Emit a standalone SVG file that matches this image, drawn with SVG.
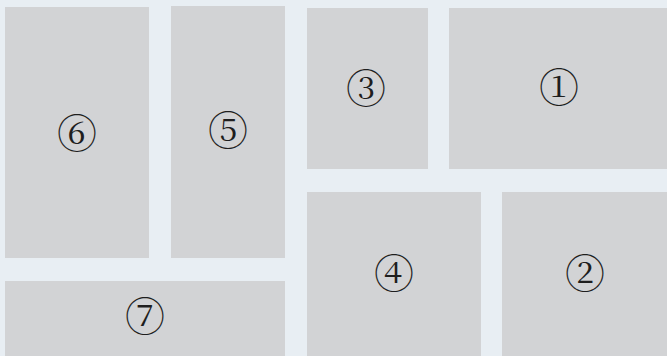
<svg xmlns="http://www.w3.org/2000/svg" width="667" height="356" viewBox="0 0 667 356">
<style>
.box{fill:#d2d3d5}
.lbl{font-family:"DejaVu Serif","Noto Serif CJK JP","Noto Sans CJK JP",serif;font-size:40px;fill:#1e1e1e;text-anchor:middle;dominant-baseline:central}
</style>
<rect x="0" y="0" width="667" height="356" fill="#e8eef3"/>
<g id="n6"><rect class="box" x="5" y="7" width="144" height="251"/><text class="lbl" x="77" y="134">⑥</text></g>
<g id="n5"><rect class="box" x="171" y="6" width="114" height="252"/><text class="lbl" x="228" y="131">⑤</text></g>
<g id="n3"><rect class="box" x="307" y="8" width="121" height="161"/><text class="lbl" x="366" y="89">③</text></g>
<g id="n1"><rect class="box" x="449" y="8" width="218" height="161"/><text class="lbl" x="559" y="88">①</text></g>
<g id="n4"><rect class="box" x="307" y="192" width="174" height="164"/><text class="lbl" x="394" y="274">④</text></g>
<g id="n2"><rect class="box" x="502" y="192" width="165" height="164"/><text class="lbl" x="585" y="274">②</text></g>
<g id="n7"><rect class="box" x="5" y="281" width="280" height="75"/><text class="lbl" x="145" y="317">⑦</text></g>
<g id="connectors"/>
</svg>
